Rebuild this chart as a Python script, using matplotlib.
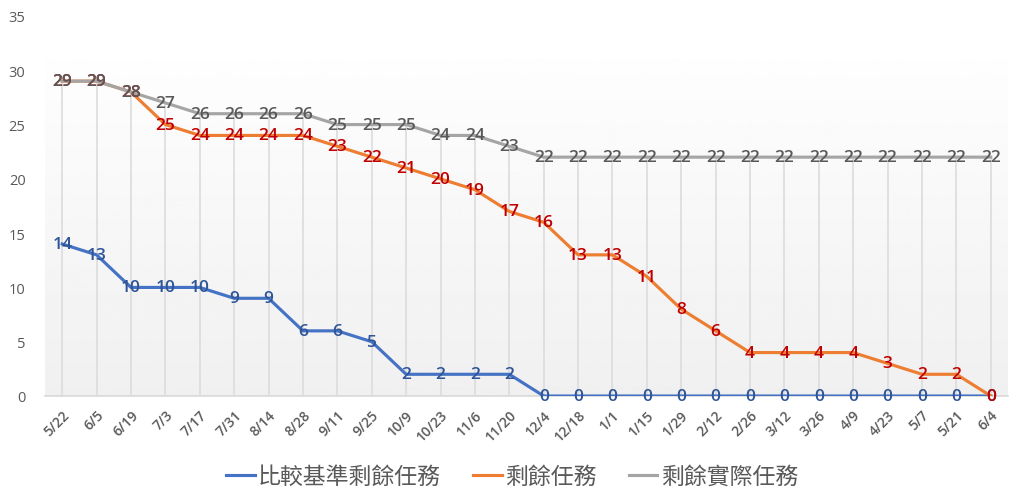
import numpy as np
import matplotlib
matplotlib.use('Agg')
import matplotlib.pyplot as plt

plt.rcParams['font.family'] = ['Open Sans', 'Noto Sans CJK TC', 'DejaVu Sans']

dates = ['5/22', '6/5', '6/19', '7/3', '7/17', '7/31', '8/14', '8/28', '9/11', '9/25',
         '10/9', '10/23', '11/6', '11/20', '12/4', '12/18', '1/1', '1/15', '1/29', '2/12',
         '2/26', '3/12', '3/26', '4/9', '4/23', '5/7', '5/21', '6/4']
baseline = [14, 13, 10, 10, 10, 9, 9, 6, 6, 5, 2, 2, 2, 2, 0, 0, 0, 0, 0, 0,
            0, 0, 0, 0, 0, 0, 0, 0]
remaining = [29, 29, 28, 25, 24, 24, 24, 24, 23, 22, 21, 20, 19, 17, 16, 13, 13, 11, 8, 6,
             4, 4, 4, 4, 3, 2, 2, 0]
actual = [29, 29, 28, 27, 26, 26, 26, 26, 25, 25, 25, 24, 24, 23, 22, 22, 22, 22, 22, 22,
          22, 22, 22, 22, 22, 22, 22, 22]
names = ['比較基準剩餘任務', '剩餘任務', '剩餘實際任務']

line_colors = ['#4472c4', '#ed7d31', '#a5a5a5']
label_colors = ['#2f5597', '#c00000', '#595959']

fig = plt.figure(figsize=(10.24, 5.02), dpi=100)
ax = fig.add_axes([45 / 1024, 1 - 397 / 502, 963 / 1024, 380 / 502])

x = np.arange(len(dates))
ax.set_xlim(-0.5, len(dates) - 0.5)
ax.set_ylim(0, 35)

# plot-area gradient fill
grad = np.linspace(0.94, 0.995, 256).reshape(-1, 1)
ax.imshow(grad, cmap='gray', vmin=0, vmax=1, aspect='auto', origin='lower',
          extent=(-0.5, len(dates) - 0.5, 0, 31), zorder=0)

series = [baseline, remaining, actual]

# drop lines from the highest point down to the axis
tops = np.max(np.array(series), axis=0)
ax.vlines(x, 0, tops, color='#dcdcdc', lw=1.2, zorder=1)

handles = []
for vals, name, lc in zip(series, names, line_colors):
    h, = ax.plot(x, vals, color=lc, lw=2.25, label=name, zorder=3)
    handles.append(h)

for vals, tc in zip(series, label_colors):
    for xi, v in zip(x, vals):
        ax.text(xi, v, str(v), color=tc, fontsize=12.5, fontweight='semibold',
                ha='center', va='center', zorder=4)

for s in ['top', 'right', 'left']:
    ax.spines[s].set_visible(False)
ax.spines['bottom'].set_color('#d9d9d9')
ax.spines['bottom'].set_linewidth(1.2)
ax.tick_params(length=0, colors='#595959', labelsize=10.5)
ax.set_yticks(range(0, 36, 5))
ax.set_xticks(x)
ax.set_xticklabels(dates, rotation=45, ha='right', rotation_mode='anchor',
                   fontweight='semibold', fontsize=10)
ax.tick_params(axis='x', pad=8)
ax.tick_params(axis='y', pad=14)

fig.legend(handles=handles, loc='center', bbox_to_anchor=(0.5, 0.048), ncol=3,
           frameon=False, fontsize=16.5, labelcolor='#595959', handlelength=1.25,
           columnspacing=1.4, handletextpad=0.15)

fig.savefig('out.png', dpi=100)
